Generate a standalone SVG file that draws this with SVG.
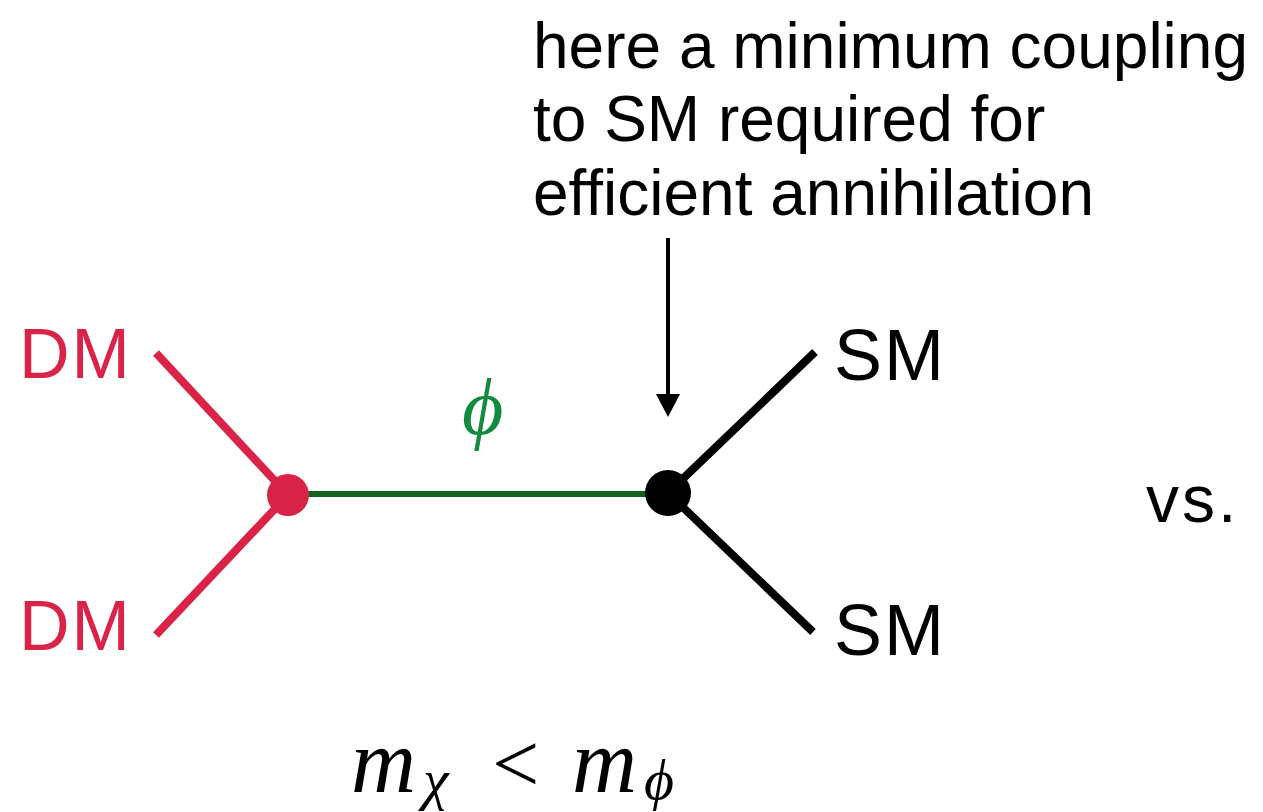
<svg xmlns="http://www.w3.org/2000/svg" width="1263" height="812" viewBox="0 0 1263 812">
<defs>
<style>
.lbl{font-family:"Liberation Sans",Arial,sans-serif;}
.math{font-family:"Liberation Serif","Times New Roman",serif;font-style:italic;}
.red{fill:#D92347;}
.blk{fill:#000;}
</style>
</defs>
<rect width="1263" height="812" fill="#fff"/>
<g id="connectors">
<line x1="156" y1="353" x2="288" y2="495" stroke="#D92347" stroke-width="8"/>
<line x1="156" y1="635" x2="288" y2="495" stroke="#D92347" stroke-width="8"/>
<line x1="288" y1="494" x2="668" y2="494" stroke="#10621C" stroke-width="6"/>
<line x1="668" y1="493" x2="815" y2="352" stroke="#000" stroke-width="8"/>
<line x1="668" y1="493" x2="813" y2="632" stroke="#000" stroke-width="8"/>
<line x1="668" y1="238" x2="668" y2="398" stroke="#000" stroke-width="4"/>
<polygon points="656,394 680,394 668,417" fill="#000"/>
</g>
<g id="node-dm-vertex"><circle cx="288" cy="495" r="21" fill="#D92347"/></g>
<g id="node-sm-vertex"><circle cx="668" cy="493" r="23" fill="#000"/></g>
<g id="node-dm1"><text class="lbl red" x="19" y="378" font-size="70" letter-spacing="2">DM</text></g>
<g id="node-dm2"><text class="lbl red" x="19" y="650" font-size="70" letter-spacing="2">DM</text></g>
<g id="node-sm1"><text class="lbl blk" x="834" y="380" font-size="72" letter-spacing="2">SM</text></g>
<g id="node-sm2"><text class="lbl blk" x="834" y="655" font-size="72" letter-spacing="2">SM</text></g>
<g id="label-phi"><text class="math" x="462" y="434" font-size="80" fill="#138A3E">ϕ</text></g>
<g id="annotation">
<text class="lbl blk" font-size="64"><tspan x="533" y="68">here a minimum coupling</tspan><tspan x="533" y="141">to SM required for</tspan><tspan x="533" y="215">efficient annihilation</tspan></text>
</g>
<g id="label-vs"><text class="lbl blk" x="1146" y="522" font-size="66" letter-spacing="3">vs.</text></g>
<g id="label-mass">
<text class="math blk" x="351" y="792" font-size="90">m</text>
<text class="math blk" x="423" y="799" font-size="58">χ</text>
<text class="blk" x="492" y="792" font-size="84" font-family="Liberation Serif, serif">&lt;</text>
<text class="math blk" x="572" y="792" font-size="90">m</text>
<text class="math blk" x="644" y="799" font-size="58">ϕ</text>
</g>
</svg>
